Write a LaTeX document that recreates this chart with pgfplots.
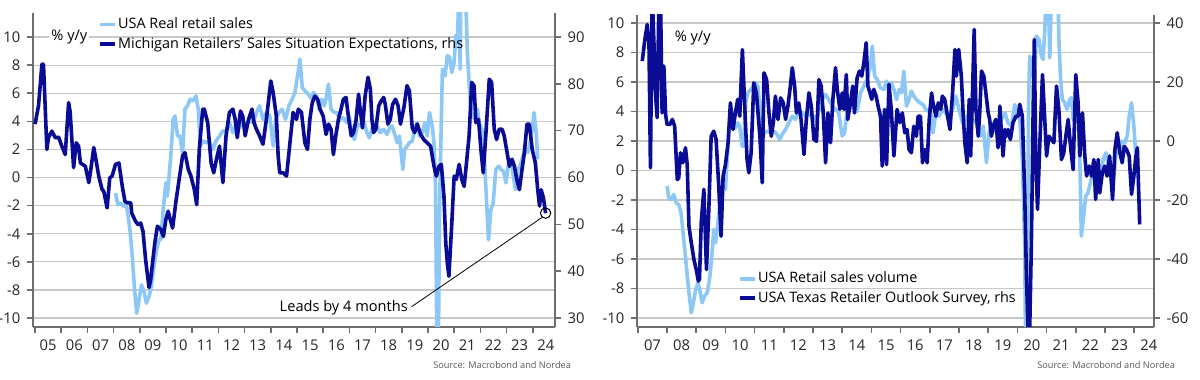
\documentclass[border=0pt]{standalone}
\usepackage{fontspec}
\setmainfont{Open Sans}
\usepackage{pgfplots}
\pgfplotsset{compat=1.18}
\definecolor{lb}{RGB}{140,199,245}
\definecolor{db}{RGB}{10,12,150}
\definecolor{axgray}{RGB}{110,110,110}
\definecolor{gridgray}{RGB}{200,200,200}
\pgfplotsset{
  base/.style={scale only axis, clip=true, tick align=outside,
    major tick length=2.8pt, minor tick length=2.8pt,
    axis line style={axgray, line width=1pt},
    tick style={axgray, line width=0.8pt},
    ticklabel style={font=\fontsize{7.4}{8}\selectfont, text=black!85},
    /pgf/number format/assume math mode=true,
    legend cell align=left,
    legend image code/.code={\draw[##1] (0pt,0pt) -- (7.5pt,0pt);},
  },
  leftx/.style={xmin=2004.92, xmax=2024.85},
  rightx/.style={xmin=2006.97, xmax=2024.68},
  lineL/.style={lb, line width=1.8pt, line join=round},
  lineD/.style={db, line width=1.8pt, line join=round},
}
\begin{document}
\begin{tikzpicture}
\path[use as bounding box] (0,0) rectangle (600pt,190pt);
% ---------------- Left panel ----------------
\begin{axis}[base, leftx, at={(16.5pt,26.5pt)}, anchor=south west,
  width=261pt, height=157pt, ymin=-10.64, ymax=11.71,
  axis x line*=bottom, axis y line*=left,
  ytick={-10,-8,...,10}, ymajorgrids, grid style={gridgray, line width=0.6pt},
  xtick={2005.5,2006.5,...,2024.5},
  xticklabels={05,06,07,08,09,10,11,12,13,14,15,16,17,18,19,20,21,22,23,24},
  minor xtick={2005,2006,...,2024}, major x tick style={draw=none}]
\addplot[lineL] coordinates {
(2008.07,-1.10)(2008.16,-1.93)(2008.26,-1.81)(2008.37,-2.05)(2008.45,-1.93)(2008.52,-2.29)(2008.62,-3.71)(2008.71,-5.62)(2008.80,-8.00)(2008.88,-9.67)(2008.97,-8.71)(2009.06,-7.64)(2009.16,-8.12)(2009.25,-8.95)(2009.35,-8.48)(2009.44,-7.76)(2009.54,-6.33)(2009.64,-5.14)(2009.73,-4.43)(2009.80,-4.43)(2009.89,-2.29)(2009.99,-0.38)(2010.05,-1.33)(2010.18,1.52)(2010.27,4.14)(2010.34,4.38)(2010.44,2.95)(2010.53,2.95)(2010.63,1.76)(2010.72,4.86)(2010.82,5.10)(2010.92,5.57)(2011.01,5.45)(2011.08,5.62)(2011.14,5.81)(2011.23,4.86)(2011.31,2.24)(2011.40,2.60)(2011.53,2.48)(2011.65,2.60)(2011.78,2.00)(2011.91,2.60)(2012.04,2.95)(2012.17,3.31)(2012.29,3.31)(2012.42,3.90)(2012.55,3.19)(2012.68,3.79)(2012.81,3.55)(2012.93,4.02)(2013.06,3.79)(2013.19,4.14)(2013.32,3.90)(2013.45,4.62)(2013.57,5.10)(2013.70,4.14)(2013.83,4.62)(2013.96,4.38)(2014.09,2.24)(2014.19,4.14)(2014.30,4.62)(2014.43,4.86)(2014.56,4.14)(2014.69,5.10)(2014.81,5.57)(2014.92,6.05)(2015.05,7.60)(2015.11,8.43)(2015.20,6.40)(2015.30,6.17)(2015.43,5.93)(2015.56,5.57)(2015.62,6.05)(2015.75,5.81)(2015.84,4.86)(2015.94,5.57)(2016.04,5.10)(2016.13,5.81)(2016.20,6.64)(2016.30,4.86)(2016.43,4.62)(2016.52,4.62)(2016.64,4.14)(2016.77,4.26)(2016.90,3.90)(2016.99,4.38)(2017.09,3.19)(2017.19,2.71)(2017.32,3.79)(2017.45,3.67)(2017.54,4.02)(2017.67,3.19)(2017.76,2.83)(2017.86,3.43)(2017.96,3.90)(2018.09,3.55)(2018.18,3.19)(2018.31,3.43)(2018.44,3.07)(2018.54,3.55)(2018.63,3.67)(2018.73,3.07)(2018.82,2.48)(2018.91,2.95)(2019.04,0.57)(2019.11,2.00)(2019.20,2.24)(2019.29,2.48)(2019.40,2.60)(2019.50,3.43)(2019.59,3.90)(2019.68,2.95)(2019.78,3.19)(2019.88,3.90)(2019.97,2.95)(2020.06,4.62)(2020.16,3.67)(2020.23,2.48)(2020.29,-0.86)(2020.37,-19)(2020.44,-2.29)(2020.55,7.71)(2020.65,7.24)(2020.74,8.67)(2020.83,8.55)(2020.91,7.48)(2021.00,8.19)(2021.06,10.10)(2021.12,9.62)(2021.18,13)(2021.23,7.71)(2021.28,20)(2021.36,22)(2021.44,13)(2021.50,9.0)(2021.57,6.76)(2021.63,5.10)(2021.70,4.38)(2021.80,4.14)(2021.89,4.86)(2021.95,3.90)(2022.06,3.43)(2022.15,1.52)(2022.24,-1.81)(2022.31,-4.43)(2022.40,-2.29)(2022.49,-1.81)(2022.59,0.57)(2022.70,0.81)(2022.79,0.57)(2022.88,0.45)(2022.98,-0.38)(2023.08,1.05)(2023.17,1.29)(2023.26,0.10)(2023.34,-0.86)(2023.43,0.57)(2023.52,0.81)(2023.62,1.52)(2023.71,2.00)(2023.81,1.76)(2023.90,2.48)(2023.98,3.43)(2024.05,4.62)(2024.13,3.19)(2024.19,1.29)
};
\node[fill=white, inner sep=1pt, font=\fontsize{7.3}{8}\selectfont] at (axis cs:2006.31,10) {\% y/y};
\end{axis}
\begin{axis}[base, leftx, at={(16.5pt,26.5pt)}, anchor=south west,
  width=261pt, height=157pt, ymin=28.08, ymax=95.13,
  axis x line=none, axis y line*=right, ytick={30,40,...,90},
  legend style={draw=none, fill=none, at={(0.1245,0.99)}, anchor=north west,
    font=\fontsize{7.2}{8.5}\selectfont, inner sep=0pt, row sep=1.5pt,
    nodes={inner sep=0.6pt}}]
\addlegendimage{lineL}\addlegendentry{USA Real retail sales}
\addplot[lineD] coordinates {
(2005.00,71.4)(2005.13,75.3)(2005.26,84.2)(2005.32,84.2)(2005.45,66.0)(2005.51,68.5)(2005.64,69.9)(2005.77,68.5)(2005.90,68.6)(2006.02,66.7)(2006.15,64.9)(2006.28,76.0)(2006.34,73.9)(2006.47,62.1)(2006.57,67.4)(2006.66,66.7)(2006.73,63.1)(2006.92,62.4)(2007.05,58.9)(2007.11,61.0)(2007.24,66.4)(2007.30,64.6)(2007.43,60.3)(2007.56,57.4)(2007.62,57.1)(2007.75,53.5)(2007.85,59.9)(2007.94,60.3)(2008.07,62.8)(2008.20,63.1)(2008.33,58.1)(2008.43,54.9)(2008.52,54.6)(2008.65,54.6)(2008.69,52.4)(2008.84,50.6)(2008.94,49.9)(2009.03,50.3)(2009.12,48.5)(2009.22,42.4)(2009.35,36.5)(2009.41,38.1)(2009.57,46.0)(2009.67,49.6)(2009.80,48.9)(2009.90,47.4)(2009.99,51.0)(2010.08,52.8)(2010.16,51.0)(2010.25,49.2)(2010.37,54.6)(2010.50,59.6)(2010.63,64.6)(2010.72,65.3)(2010.85,61.7)(2010.95,60.3)(2011.08,57.4)(2011.17,54.2)(2011.27,66.0)(2011.40,74.6)(2011.46,74.6)(2011.59,71.7)(2011.72,63.1)(2011.82,61.0)(2011.91,63.5)(2012.04,66.7)(2012.17,58.9)(2012.29,68.9)(2012.42,73.9)(2012.55,74.6)(2012.64,72.4)(2012.72,68.5)(2012.84,74.2)(2012.93,73.1)(2013.02,68.9)(2013.15,72.4)(2013.28,74.6)(2013.36,71.7)(2013.45,70.3)(2013.57,68.9)(2013.70,67.1)(2013.83,72.4)(2014.00,80.6)(2014.09,78.1)(2014.21,73.1)(2014.28,64.6)(2014.34,61.0)(2014.47,61.0)(2014.60,60.3)(2014.73,67.4)(2014.85,73.9)(2014.98,72.4)(2015.05,74.6)(2015.17,73.9)(2015.30,67.4)(2015.40,66.0)(2015.49,72.4)(2015.58,75.9)(2015.68,77.4)(2015.79,76.7)(2015.88,74.6)(2016.00,73.1)(2016.11,69.2)(2016.20,71.4)(2016.30,70.3)(2016.39,64.9)(2016.48,68.9)(2016.58,72.4)(2016.68,74.6)(2016.77,76.7)(2016.87,77.1)(2016.96,73.1)(2017.07,68.9)(2017.16,69.6)(2017.25,72.1)(2017.35,77.8)(2017.41,74.6)(2017.50,70.6)(2017.60,77.4)(2017.71,81.4)(2017.80,78.9)(2017.86,72.4)(2017.92,69.6)(2018.01,70.3)(2018.12,75.3)(2018.22,76.4)(2018.31,77.1)(2018.37,75.6)(2018.47,71.4)(2018.56,72.4)(2018.65,75.6)(2018.76,76.7)(2018.86,75.3)(2018.95,71.4)(2019.08,74.9)(2019.20,79.6)(2019.29,78.5)(2019.40,70.6)(2019.49,69.6)(2019.59,71.4)(2019.72,69.2)(2019.84,68.1)(2019.97,67.4)(2020.10,66.7)(2020.23,62.4)(2020.32,60.3)(2020.42,62.4)(2020.51,62.8)(2020.61,56.0)(2020.68,46.0)(2020.74,41.7)(2020.80,38.9)(2020.91,50.3)(2021.00,60.3)(2021.08,59.6)(2021.19,62.8)(2021.29,59.6)(2021.38,58.1)(2021.47,63.1)(2021.57,68.9)(2021.67,80.3)(2021.76,79.6)(2021.83,71.7)(2021.93,72.4)(2022.02,66.0)(2022.11,61.0)(2022.21,69.2)(2022.34,81.0)(2022.43,80.3)(2022.53,70.3)(2022.62,68.1)(2022.72,70.3)(2022.83,70.3)(2022.91,68.9)(2023.00,66.0)(2023.11,62.4)(2023.21,63.9)(2023.30,62.4)(2023.39,59.6)(2023.49,57.4)(2023.59,61.7)(2023.68,65.3)(2023.78,71.4)(2023.87,71.4)(2023.98,66.0)(2024.10,63.1)(2024.19,57.4)(2024.26,53.9)(2024.32,57.4)(2024.41,55.6)(2024.49,52.4)
};
\addlegendentry{Michigan Retailers' Sales Situation Expectations, rhs}
\addplot[only marks, mark=o, mark size=2.6pt, mark options={black, line width=0.5pt}, forget plot] coordinates {(2024.49,52.4)};
\draw[black, line width=0.4pt] (axis cs:2019.37,32.4) -- (axis cs:2024.39,51.6);
\node[anchor=east, inner sep=0.5pt, font=\fontsize{7.3}{8}\selectfont] at (axis cs:2019.28,32.1) {Leads by 4 months};
\end{axis}
\node[anchor=east, font=\fontsize{4.6}{5.5}\selectfont, text=black!65] at (289pt,7.5pt) {Source: Macrobond and Nordea};
% ---------------- Right panel ----------------
\begin{axis}[base, rightx, at={(318.5pt,26.5pt)}, anchor=south west,
  width=258.5pt, height=156pt, ymin=-10.61, ymax=10.54,
  axis x line*=bottom, axis y line*=left,
  ytick={-10,-8,...,10}, ymajorgrids, grid style={gridgray, line width=0.6pt},
  xtick={2007.5,2008.5,...,2024.5},
  xticklabels={07,08,09,10,11,12,13,14,15,16,17,18,19,20,21,22,23,24},
  minor xtick={2007,2008,...,2024}, major x tick style={draw=none}]
\addplot[lineL] coordinates {
(2008.00,-1.06)(2008.06,-1.85)(2008.14,-1.97)(2008.23,-1.63)(2008.31,-2.19)(2008.40,-2.31)(2008.48,-2.87)(2008.57,-4.68)(2008.66,-6.49)(2008.75,-8.29)(2008.83,-9.65)(2008.90,-8.97)(2008.98,-8.07)(2009.06,-7.62)(2009.12,-8.07)(2009.20,-8.97)(2009.28,-8.52)(2009.38,-8.29)(2009.47,-7.16)(2009.55,-5.36)(2009.60,-4.00)(2009.66,-4.90)(2009.74,-3.55)(2009.83,-1.97)(2009.92,-0.38)(2010.00,-1.29)(2010.08,1.42)(2010.17,4.14)(2010.26,3.68)(2010.34,2.89)(2010.42,3.23)(2010.49,3.01)(2010.57,1.65)(2010.63,1.65)(2010.69,4.59)(2010.77,5.27)(2010.86,5.49)(2010.95,5.72)(2011.03,5.94)(2011.11,5.72)(2011.18,4.14)(2011.26,2.33)(2011.34,2.55)(2011.43,2.67)(2011.54,2.55)(2011.66,2.67)(2011.77,2.44)(2011.86,2.10)(2011.94,2.44)(2012.06,2.78)(2012.17,3.23)(2012.29,3.68)(2012.40,3.46)(2012.51,4.14)(2012.63,3.91)(2012.74,3.68)(2012.86,3.80)(2012.97,3.68)(2013.08,3.46)(2013.20,4.02)(2013.31,4.81)(2013.43,5.15)(2013.54,4.81)(2013.66,4.36)(2013.77,4.14)(2013.88,3.91)(2014.00,2.33)(2014.08,2.55)(2014.17,4.14)(2014.28,4.25)(2014.40,4.59)(2014.51,4.02)(2014.63,5.27)(2014.74,5.72)(2014.85,6.17)(2014.97,7.07)(2015.03,8.43)(2015.11,6.40)(2015.20,6.17)(2015.31,5.60)(2015.43,5.49)(2015.52,6.06)(2015.60,5.49)(2015.68,5.94)(2015.77,5.49)(2015.86,4.81)(2015.95,5.49)(2016.03,5.27)(2016.11,6.73)(2016.20,4.36)(2016.29,4.81)(2016.37,5.38)(2016.45,5.04)(2016.54,4.81)(2016.66,4.59)(2016.77,4.47)(2016.86,4.14)(2016.94,4.02)(2017.02,4.14)(2017.11,2.55)(2017.21,3.91)(2017.32,3.68)(2017.43,4.14)(2017.55,3.91)(2017.66,3.46)(2017.78,4.14)(2017.89,5.04)(2018.00,4.14)(2018.12,3.23)(2018.23,3.46)(2018.35,3.91)(2018.46,3.46)(2018.58,3.23)(2018.66,2.78)(2018.74,2.33)(2018.83,3.01)(2018.94,0.52)(2019.03,2.55)(2019.11,3.23)(2019.23,2.67)(2019.34,3.23)(2019.45,3.46)(2019.57,3.91)(2019.68,3.23)(2019.80,3.01)(2019.91,4.47)(2019.99,3.68)(2020.08,3.46)(2020.17,0.75)(2020.25,-4.90)(2020.31,-19)(2020.38,4.14)(2020.42,7.75)(2020.52,6.40)(2020.60,6.62)(2020.65,9.11)(2020.74,8.88)(2020.82,7.75)(2020.88,7.53)(2020.94,9.56)(2021.00,13)(2021.06,12)(2021.11,7.64)(2021.17,12)(2021.28,22)(2021.36,16)(2021.42,9)(2021.48,6.2)(2021.54,4.81)(2021.62,4.59)(2021.70,4.14)(2021.79,4.81)(2021.85,4.93)(2021.91,3.46)(2022.00,3.91)(2022.08,3.46)(2022.14,0.75)(2022.19,-4.45)(2022.27,-3.10)(2022.34,-1.74)(2022.42,-1.51)(2022.50,-0.84)(2022.59,0.07)(2022.68,0.52)(2022.77,0.29)(2022.85,-0.16)(2022.94,0.75)(2023.03,1.20)(2023.11,0.29)(2023.19,-0.38)(2023.26,-1.29)(2023.34,0.29)(2023.42,1.88)(2023.51,1.42)(2023.59,1.99)(2023.68,1.88)(2023.76,2.33)(2023.83,3.68)(2023.91,4.59)(2023.99,3.01)(2024.05,1.20)
};
\node[inner sep=1pt, font=\fontsize{7.3}{8}\selectfont] at (axis cs:2008.88,8.98) {\% y/y};
\end{axis}
\begin{axis}[base, rightx, at={(318.5pt,26.5pt)}, anchor=south west,
  width=258.5pt, height=156pt, ymin=-63.05, ymax=42.7,
  axis x line=none, axis y line*=right, ytick={-60,-40,...,40},
  legend style={draw=none, fill=none, at={(0.195,0.065)}, anchor=south west,
    font=\fontsize{7.2}{8.5}\selectfont, inner sep=0pt, row sep=1.5pt,
    nodes={inner sep=0.6pt}}]
\addlegendimage{lineL}\addlegendentry{USA Retail sales volume}
\addplot[lineD] coordinates {
(2007.15,27.1)(2007.24,34.4)(2007.32,39.5)(2007.38,33.3)(2007.43,-9.1)(2007.49,50)(2007.55,33.3)(2007.60,16.3)(2007.66,7.9)(2007.72,48)(2007.78,45)(2007.83,9.5)(2007.89,25.4)(2007.95,9.0)(2008.00,5.6)(2008.10,5.6)(2008.18,7.3)(2008.26,5.0)(2008.35,-13.1)(2008.40,-12.5)(2008.46,-4.0)(2008.54,-7.4)(2008.63,-2.3)(2008.69,-8.0)(2008.75,-28.9)(2008.83,-34.5)(2008.92,-40.2)(2009.00,-43.6)(2009.07,-47.5)(2009.11,-46.9)(2009.17,-27.7)(2009.26,-16.4)(2009.32,-34.5)(2009.35,-43.6)(2009.43,-23.2)(2009.51,1.6)(2009.60,3.3)(2009.68,0.5)(2009.77,-15.3)(2009.85,-32.3)(2009.92,-11.9)(2010.00,-8.0)(2010.09,-0.6)(2010.17,12.9)(2010.26,3.9)(2010.34,9.5)(2010.42,14.1)(2010.49,8.4)(2010.58,31.0)(2010.65,14.1)(2010.74,-6.3)(2010.80,-10.8)(2010.88,-4.0)(2010.97,19.7)(2011.06,16.3)(2011.18,1.6)(2011.26,-14.2)(2011.32,23.1)(2011.41,20.8)(2011.49,9.5)(2011.57,1.6)(2011.64,6.2)(2011.71,15.2)(2011.80,7.3)(2011.89,14.6)(2011.98,12.9)(2012.06,7.3)(2012.14,11.8)(2012.21,17.5)(2012.29,24.8)(2012.37,18.6)(2012.43,9.5)(2012.51,12.9)(2012.59,7.3)(2012.69,-4.6)(2012.77,7.3)(2012.86,16.3)(2012.94,11.8)(2013.03,0.5)(2013.12,-0.1)(2013.20,20.8)(2013.28,18.6)(2013.35,9.5)(2013.43,-7.4)(2013.51,9.5)(2013.60,-0.6)(2013.68,14.1)(2013.77,24.8)(2013.83,17.5)(2013.92,10.7)(2014.00,16.3)(2014.06,10.7)(2014.14,22.5)(2014.19,7.3)(2014.28,12.9)(2014.36,18.6)(2014.42,9.5)(2014.51,21.4)(2014.59,23.7)(2014.67,22.0)(2014.74,26.5)(2014.82,33.3)(2014.88,18.6)(2014.95,16.3)(2015.01,14.1)(2015.08,17.5)(2015.16,15.2)(2015.23,11.8)(2015.31,8.4)(2015.37,-8.5)(2015.45,10.7)(2015.52,-8.0)(2015.60,19.2)(2015.68,10.7)(2015.77,-5.1)(2015.84,5.0)(2015.88,10.7)(2015.97,6.2)(2016.06,9.5)(2016.14,2.8)(2016.22,3.9)(2016.29,-2.9)(2016.37,-4.0)(2016.45,5.0)(2016.54,1.6)(2016.60,8.4)(2016.68,8.4)(2016.75,-7.4)(2016.83,-2.9)(2016.91,-7.4)(2016.98,7.3)(2017.06,16.3)(2017.11,12.9)(2017.21,8.4)(2017.29,12.9)(2017.37,10.7)(2017.43,15.2)(2017.51,14.1)(2017.59,9.5)(2017.69,3.9)(2017.78,16.3)(2017.86,31.0)(2017.91,22.0)(2017.99,31.0)(2018.08,22.0)(2018.14,9.5)(2018.20,-0.6)(2018.28,-7.4)(2018.35,14.1)(2018.40,-5.1)(2018.46,15.2)(2018.52,37.8)(2018.58,10.7)(2018.66,1.6)(2018.71,9.5)(2018.77,23.7)(2018.85,22.0)(2018.92,16.3)(2019.00,9.5)(2019.05,7.3)(2019.11,1.6)(2019.17,5.0)(2019.26,7.3)(2019.34,-2.3)(2019.40,11.8)(2019.45,3.3)(2019.51,-5.1)(2019.57,3.9)(2019.63,1.6)(2019.68,3.9)(2019.76,0.5)(2019.85,6.2)(2019.95,8.4)(2020.03,8.4)(2020.08,12.4)(2020.17,8.4)(2020.25,-17.6)(2020.31,-45.8)(2020.40,-75)(2020.48,-34.5)(2020.54,10.7)(2020.58,34.4)(2020.63,-6.3)(2020.69,-23.2)(2020.77,-0.6)(2020.86,22.5)(2020.92,10.7)(2021.00,-5.1)(2021.08,1.6)(2021.17,0.5)(2021.25,-0.6)(2021.34,18.6)(2021.42,10.7)(2021.51,-6.3)(2021.59,-4.0)(2021.66,1.6)(2021.74,7.3)(2021.83,-2.9)(2021.91,-9.7)(2022.00,22.5)(2022.08,12.9)(2022.14,-5.1)(2022.23,9.5)(2022.31,-5.1)(2022.37,-11.9)(2022.46,-8.5)(2022.54,-11.9)(2022.62,-6.3)(2022.68,-19.8)(2022.77,-6.3)(2022.82,-17.6)(2022.91,-10.8)(2022.99,-8.5)(2023.07,-11.9)(2023.16,-5.1)(2023.26,-19.8)(2023.34,-2.9)(2023.42,2.8)(2023.51,-4.0)(2023.59,-7.4)(2023.66,-1.8)(2023.74,-2.9)(2023.83,-5.1)(2023.91,-18.1)(2023.99,-11.9)(2024.06,-5.1)(2024.11,-2.3)(2024.19,-28.3)
};
\addlegendentry{USA Texas Retailer Outlook Survey, rhs}
\end{axis}
\node[anchor=east, font=\fontsize{4.6}{5.5}\selectfont, text=black!65] at (591pt,7.5pt) {Source: Macrobond and Nordea};
\end{tikzpicture}
\end{document}
